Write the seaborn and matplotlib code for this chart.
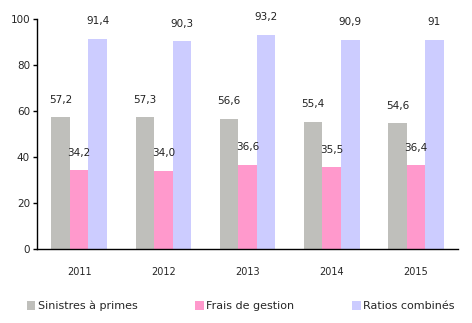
import matplotlib
matplotlib.use("Agg")
import matplotlib.pyplot as plt
import seaborn as sns
import pandas as pd
from matplotlib.patches import Patch

years = ["2011", "2012", "2013", "2014", "2015"]
series = ["Sinistres à primes", "Frais de gestion", "Ratios combinés"]
sinistres = [57.2, 57.3, 56.6, 55.4, 54.6]
frais = [34.2, 34.0, 36.6, 35.5, 36.4]
ratios = [91.4, 90.3, 93.2, 90.9, 91.0]
labels_sin = ["57,2", "57,3", "56,6", "55,4", "54,6"]
labels_frais = ["34,2", "34,0", "36,6", "35,5", "36,4"]
labels_rat = ["91,4", "90,3", "93,2", "90,9", "91"]
colors = ["#BFBFBB", "#FF99CC", "#CCCCFF"]

rows = []
for name, vals in zip(series, [sinistres, frais, ratios]):
    for y, v in zip(years, vals):
        rows.append({"year": y, "serie": name, "value": v})
df = pd.DataFrame(rows)

sns.set_style("white")
plt.rcParams["font.family"] = ["DejaVu Sans"]

fig = plt.figure(figsize=(4.72, 3.23), dpi=100)
ax = fig.add_axes([0.0784, 0.229, 0.892, 0.712])
sns.barplot(data=df, x="year", y="value", hue="serie", order=years,
            hue_order=series, palette=colors, width=0.66, gap=0,
            saturation=1, ax=ax, legend=False, errorbar=None, linewidth=0)

for cont, labs in zip(ax.containers, [labels_sin, labels_frais, labels_rat]):
    ax.bar_label(cont, labels=labs, padding=9, fontsize=7.5, color="#222222")

ax.set_ylim(0, 100)
ax.set_yticks([0, 20, 40, 60, 80, 100])
ax.set_xlim(-0.5, 4.5)
ax.set_xlabel("")
ax.set_ylabel("")
for s in ["top", "right"]:
    ax.spines[s].set_visible(False)
for s in ["left", "bottom"]:
    ax.spines[s].set_color("black")
    ax.spines[s].set_linewidth(1.0)
ax.tick_params(axis="y", length=3, width=1, color="black", labelsize=7.5, pad=2, left=True)
ax.tick_params(axis="x", length=0, labelsize=7, pad=13)

handles = [Patch(facecolor=c, edgecolor="none") for c in colors]
fig.legend(handles, series, loc="center", bbox_to_anchor=(0.51, 0.053), ncol=3,
           frameon=False, fontsize=8, handlelength=0.8, handleheight=0.8,
           handletextpad=0.2, columnspacing=5.2)

fig.savefig("out.png", dpi=100)
